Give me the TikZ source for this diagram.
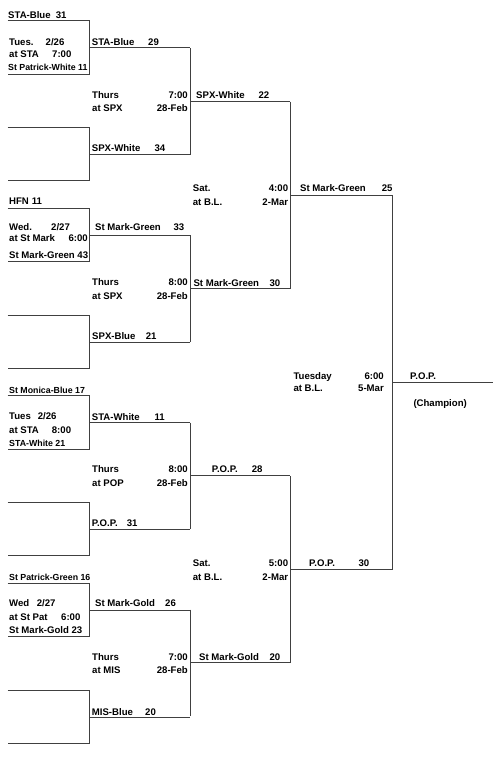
\documentclass[tikz,border=0pt]{standalone}
\usepackage{fontspec}
\setmainfont{Liberation Sans}

\begin{document}
\begin{tikzpicture}[
    x=1pt, y=-1pt,
    font=\bfseries\fontsize{9.6}{11}\selectfont,
    % bracket lines
    brk/.style={draw=black!75, line width=0.9pt},
    % text styles
    lbl/.style={anchor=base west, inner sep=0pt},
    rlbl/.style={anchor=base east, inner sep=0pt},
    sml/.style={lbl, font=\bfseries\fontsize{8.8}{10}\selectfont}
]
\useasboundingbox (0,0) rectangle (500,763);

% ==========================================
% BRACKET LINES
% ==========================================

% --- Round 1 (eight games) ---
\foreach \t in {20.7,127.3,208,315,395.7,502,583,690} {
    \draw[brk] (7.5,\t) -| (89,\t+53.3) -- (7.5,\t+53.3);
    \draw[brk] (89,\t+27) -- (190,\t+27);
}

% --- Round 2 (four games) ---
\foreach \t in {48,235,422.5,609.5} {
    \draw[brk] (190,\t) -- (190,\t+106.5);
    \draw[brk] (190,\t+53.3) -- (290,\t+53.3);
}

% --- Round 3 (two games) ---
\foreach \t in {101.5,476} {
    \draw[brk] (290,\t) -- (290,\t+187);
    \draw[brk] (290,\t+93.5) -- (392,\t+93.5);
}

% --- Final ---
\coordinate (fin_top) at (392,195);
\coordinate (fin_bot) at (392,569.5);
\coordinate (champ) at (493,382.3);
\draw[brk] (fin_top) -- (fin_bot);
\draw[brk] (fin_top |- champ) -- (champ);

% ==========================================
% UPPER HALF
% ==========================================

% --- Game 1 ---
\node[lbl] (g1a) at (8,18.3) {STA-Blue};
\node[lbl] (g1as) at (55.7,18.3) {31};
\node[lbl] (g1day) at (9,45) {Tues.};
\node[lbl] (g1date) at (45.5,45) {2/26};
\node[lbl] (g1loc) at (9,57.7) {at STA};
\node[lbl] (g1time) at (52,57.7) {7:00};
\node[sml] (g1b) at (8,70.7) {St Patrick-White 11};

% --- Game 2 ---
\node[lbl] (g2a) at (91.7,45) {STA-Blue};
\node[lbl] (g2as) at (148,45) {29};
\node[lbl] (g2day) at (92,98.3) {Thurs};
\node[rlbl] (g2time) at (188,98.3) {7:00};
\node[lbl] (g2loc) at (92,111.7) {at SPX};
\node[rlbl] (g2date) at (188,111.7) {28-Feb};
\node[lbl] (g2b) at (91.7,151) {SPX-White};
\node[lbl] (g2bs) at (154.3,151) {34};

% --- Game 3 ---
\node[lbl] (g3a) at (9,204) {HFN};
\node[lbl] (g3as) at (31.7,204) {11};
\node[lbl] (g3day) at (9,230) {Wed.};
\node[lbl] (g3date) at (51,230) {2/27};
\node[lbl] (g3loc) at (9,241.7) {at St Mark};
\node[rlbl] (g3time) at (88,241.7) {6:00};
\node[lbl] (g3b) at (9,258.3) {St Mark-Green 43};

% --- Game 4 ---
\node[lbl] (g4a) at (95,230.7) {St Mark-Green};
\node[lbl] (g4as) at (173.3,230.7) {33};
\node[lbl] (g4day) at (92,285) {Thurs};
\node[rlbl] (g4time) at (188,285) {8:00};
\node[lbl] (g4loc) at (92,299) {at SPX};
\node[rlbl] (g4date) at (188,299) {28-Feb};
\node[lbl] (g4b) at (92,339) {SPX-Blue};
\node[lbl] (g4bs) at (145.7,339) {21};

% --- Semi 1 ---
\node[lbl] (s1a) at (196,98.3) {SPX-White};
\node[lbl] (s1as) at (258.3,98.3) {22};
\node[lbl] (s1day) at (192.7,191) {Sat.};
\node[rlbl] (s1time) at (288.3,191) {4:00};
\node[lbl] (s1loc) at (192.7,205) {at B.L.};
\node[rlbl] (s1date) at (288.3,205) {2-Mar};
\node[lbl] (s1b) at (193.3,286.7) {St Mark-Green};
\node[lbl] (s1bs) at (269.3,286.7) {30};

% ==========================================
% LOWER HALF
% ==========================================

% --- Game 5 ---
\node[sml] (g5a) at (9,393.3) {St Monica-Blue 17};
\node[lbl] (g5day) at (9,419.3) {Tues};
\node[lbl] (g5date) at (37.7,419.3) {2/26};
\node[lbl] (g5loc) at (9,433.3) {at STA};
\node[lbl] (g5time) at (51.7,433.3) {8:00};
\node[sml] (g5b) at (9,446) {STA-White 21};

% --- Game 6 ---
\node[lbl] (g6a) at (91.7,420) {STA-White};
\node[lbl] (g6as) at (154.3,420) {11};
\node[lbl] (g6day) at (92,472.7) {Thurs};
\node[rlbl] (g6time) at (188,472.7) {8:00};
\node[lbl] (g6loc) at (92,486.7) {at POP};
\node[rlbl] (g6date) at (188,486.7) {28-Feb};
\node[lbl] (g6b) at (91.7,526.7) {P.O.P.};
\node[lbl] (g6bs) at (126.7,526.7) {31};

% --- Game 7 ---
\node[sml] (g7a) at (9,580.7) {St Patrick-Green 16};
\node[lbl] (g7day) at (9,606.7) {Wed};
\node[lbl] (g7date) at (36.7,606.7) {2/27};
\node[lbl] (g7loc) at (9,620) {at St Pat};
\node[lbl] (g7time) at (61,620) {6:00};
\node[lbl] (g7b) at (9,633.3) {St Mark-Gold 23};

% --- Game 8 ---
\node[lbl] (g8a) at (95,606.7) {St Mark-Gold};
\node[lbl] (g8as) at (165,606.7) {26};
\node[lbl] (g8day) at (92,660.7) {Thurs};
\node[rlbl] (g8time) at (188,660.7) {7:00};
\node[lbl] (g8loc) at (92,673.3) {at MIS};
\node[rlbl] (g8date) at (188,673.3) {28-Feb};
\node[lbl] (g8b) at (91.7,715) {MIS-Blue};
\node[lbl] (g8bs) at (145,715) {20};

% --- Semi 2 ---
\node[lbl] (s2a) at (211.7,472.3) {P.O.P.};
\node[lbl] (s2as) at (251.7,472.3) {28};
\node[lbl] (s2day) at (192.7,566.7) {Sat.};
\node[rlbl] (s2time) at (288.3,566.7) {5:00};
\node[lbl] (s2loc) at (192.7,580) {at B.L.};
\node[rlbl] (s2date) at (288.3,580) {2-Mar};
\node[lbl] (s2b) at (199,660) {St Mark-Gold};
\node[lbl] (s2bs) at (269.3,660) {20};

% ==========================================
% FINAL
% ==========================================
\node[lbl] (fa) at (300,191.7) {St Mark-Green};
\node[lbl] (fas) at (381.7,191.7) {25};
\node[lbl] (fday) at (293.3,379.3) {Tuesday};
\node[rlbl] (ftime) at (384,379.3) {6:00};
\node[lbl] (floc) at (293.3,391.7) {at B.L.};
\node[rlbl] (fdate) at (384,391.7) {5-Mar};
\node[lbl] (fb) at (309,566.7) {P.O.P.};
\node[lbl] (fbs) at (358.3,566.7) {30};
\node[lbl] (win) at (410,379) {P.O.P.};
\node[lbl] (wintag) at (413.3,406.7) {(Champion)};

\end{tikzpicture}
\end{document}
